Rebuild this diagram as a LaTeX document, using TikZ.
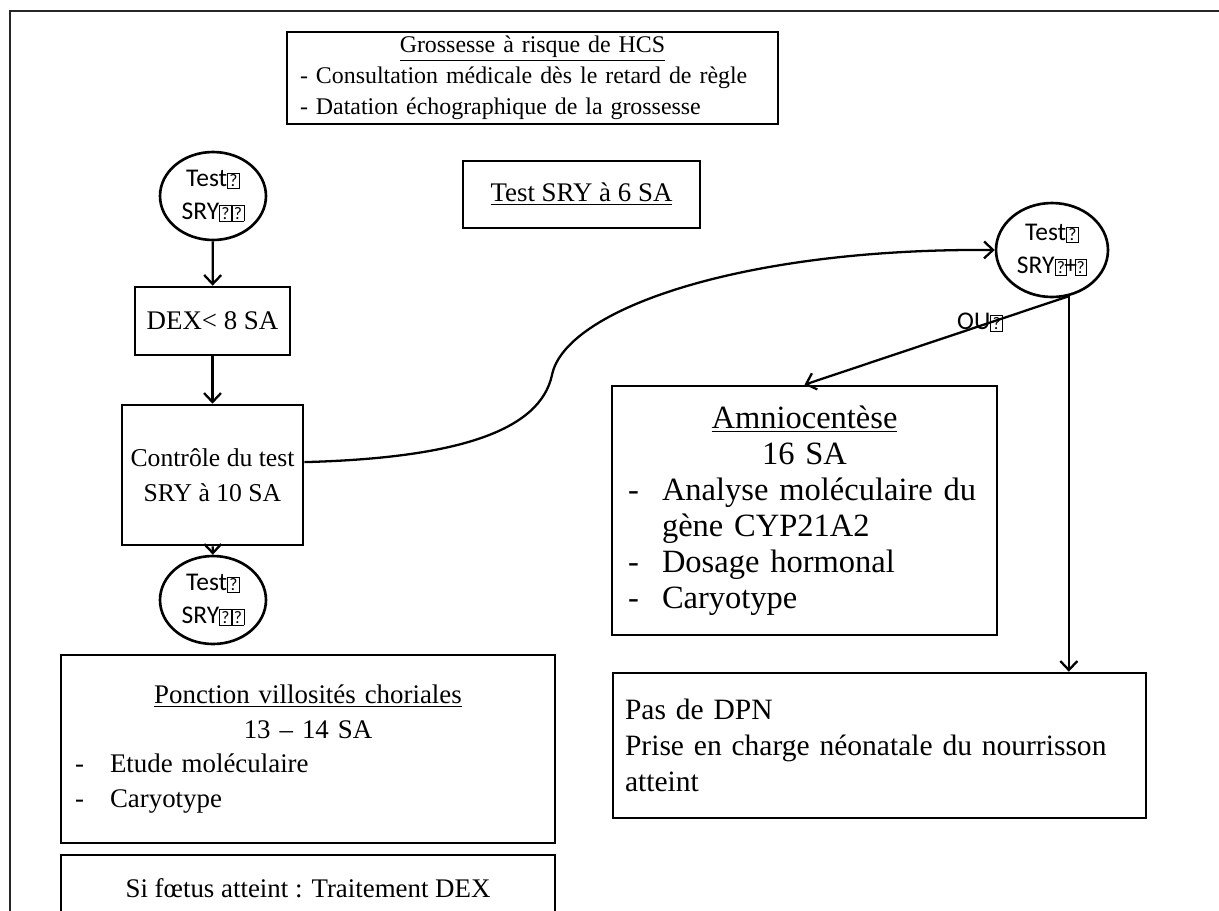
\documentclass[tikz,border=0pt]{standalone}
\usepackage{fontspec}
\setmainfont{Liberation Serif}
\newfontfamily\calibri{Carlito}
\usetikzlibrary{arrows.meta,shapes.geometric}
\newcommand\tofu{{\setlength\fboxsep{0.8pt}\setlength\fboxrule{0.45pt}\fbox{\fontsize{10}{10}\selectfont ?}}}

\begin{document}
\begin{tikzpicture}[x = 0.02cm, y = -0.02cm,
		every node/.style = {font = \fontsize{15.3}{19.8}\selectfont},
		boite/.style = {draw, line width = 1.5pt, align = left, inner ysep = 0pt},
		grand/.style = {font = \fontsize{18.5}{20.5}\selectfont},
		test/.style = {draw, ellipse, line width = 1.5pt, inner sep = 0pt, align = center,
			minimum width = 2.12cm, minimum height = 1.76cm,
			font = \calibri\fontsize{14.5}{18.5}\selectfont},
		fleche/.style = {line width = 1.3pt, -{Straight Barb[length = 1.8mm, width = 3.4mm]}}]
		\useasboundingbox (0, 0) rectangle (1219, 910) ;
		\clip (0, 0) rectangle (1219, 910) ;
		\draw [line width = 1pt, black!85] (10, 11) rectangle (1260, 960) ;

		\node [boite, minimum width = 9.82cm, minimum height = 1.84cm, inner xsep = 0.26cm, text width = 9.3cm,
			font = \fontsize{13.6}{17.6}\selectfont]
			(risque) at (532.5, 78) {\makebox[\linewidth]{\underline{Grossesse à risque de HCS}}\\
			- Consultation médicale dès le retard de règle\\
			- Datation échographique de la grossesse} ;
		\node [boite, align = center, minimum width = 4.74cm, minimum height = 1.34cm]
			(sry6) at (581.5, 194.5) {\underline{Test SRY à 6 SA}} ;

		\node [test] (neg1) at (213, 196) {Test\tofu\\SRY\tofu\tofu} ;
		\node [boite, align = center, minimum width = 3.1cm, minimum height = 1.36cm]
			(dex) at (212.5, 321) {DEX< 8 SA} ;
		\node [boite, align = center, minimum width = 3.62cm, minimum height = 2.8cm,
			font = \fontsize{14.6}{19.8}\selectfont]
			(ctrl) at (212.5, 475) {Contrôle du test\\SRY à 10 SA} ;
		\node [test] (neg2) at (213, 600) {Test\tofu\\SRY\tofu\tofu} ;
		\node [boite, minimum width = 9.88cm, minimum height = 3.76cm, inner xsep = 0.28cm, text width = 9.32cm]
			(cvs) at (308, 749) {\makebox[\linewidth]{\underline{Ponction villosités choriales}}\\
			\makebox[\linewidth]{13 – 14 SA}\\
			\makebox[0.7cm][l]{-}Etude moléculaire\\
			\makebox[0.7cm][l]{-}Caryotype} ;
		\node [boite, align = center, minimum width = 9.88cm, minimum height = 1.32cm]
			(traitement) at (308, 888) {Si fœtus atteint : Traitement DEX} ;

		\node [test, minimum width = 2.24cm, minimum height = 1.88cm] (pos) at (1052, 250) {Test\tofu\\SRY\tofu\kern-1.5pt+\kern-1.5pt\tofu} ;
		\node [boite, grand, minimum width = 7.7cm, minimum height = 4.98cm, inner xsep = 0.32cm, text width = 7.06cm]
			(amnio) at (804.5, 510.5) {\makebox[\linewidth]{\underline{Amniocentèse}}\\
			\makebox[\linewidth]{16 SA}\\
			\makebox[0.68cm][l]{-}Analyse moléculaire du\\
			\hspace*{0.68cm}gène CYP21A2\\
			\makebox[0.68cm][l]{-}Dosage hormonal\\
			\makebox[0.68cm][l]{-}Caryotype} ;
		\node [boite, minimum width = 10.66cm, minimum height = 2.9cm, inner xsep = 0.24cm, text width = 10.18cm,
			font = \fontsize{16.8}{20.3}\selectfont]
			(nodpn) at (879.5, 745.5) {Pas de DPN\\
			Prise en charge néonatale du nourrisson\\
			atteint} ;
		\node [font = \calibri\fontsize{14.5}{18.5}\selectfont] (ou) at (980, 322) {OU\tofu} ;

		\draw [fleche] (neg1) -- (dex) ;
		\draw [fleche] (dex) -- (ctrl) ;
		\draw [fleche] (ctrl) -- (neg2) ;
		\draw [fleche] (ctrl.8) .. controls (460, 458) and (540, 430) .. (552, 375)
			.. controls (565, 310) and (740, 248) .. (pos.west) ;
		\coordinate (fourche) at (pos.-70) ;
		\draw [fleche] (fourche) -- (amnio.north) ;
		\draw [fleche] (fourche) -- (fourche |- nodpn.north) ;
	\end{tikzpicture}
\end{document}
